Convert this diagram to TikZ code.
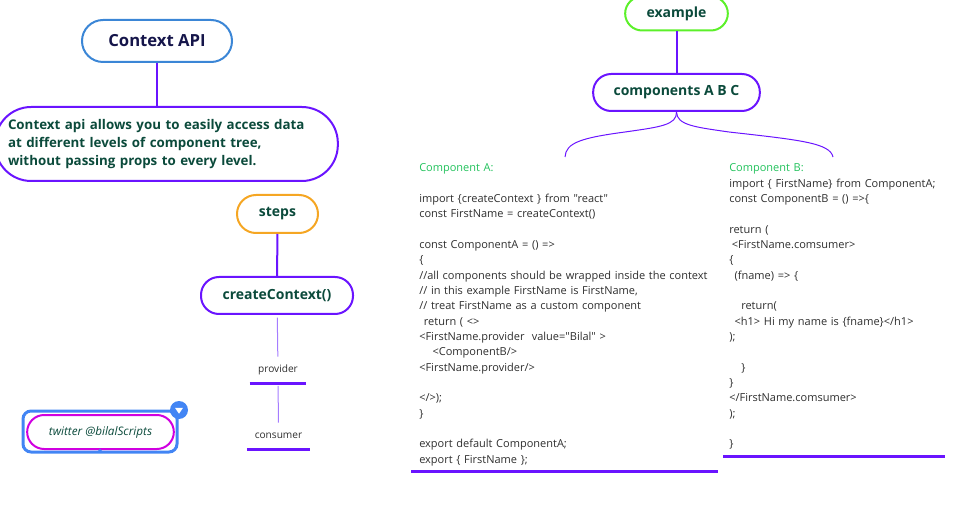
\documentclass[tikz,border=0pt]{standalone}
\usepackage{fontspec}
\setmainfont{Open Sans}
\newfontfamily\codefont{Open Sans}
\usetikzlibrary{positioning}
\definecolor{ctxblue}{HTML}{3B86D6}
\definecolor{vio}{HTML}{6A14FF}
\definecolor{lightvio}{HTML}{A57CFF}
\definecolor{stepsorange}{HTML}{F5A623}
\definecolor{lime}{HTML}{5CF02A}
\definecolor{magent}{HTML}{D000E0}
\definecolor{selblue}{HTML}{4285F4}
\definecolor{compgreen}{HTML}{22C25C}
\definecolor{dkgreen}{HTML}{0B4A3B}
\definecolor{navy}{HTML}{15154A}
\definecolor{codegrey}{HTML}{2E2E2E}
\tikzset{
  topic/.style={rectangle,draw=vio,line width=1.5pt,rounded corners=13.5pt,minimum height=27.75pt,
    text=dkgreen,font=\bfseries\fontsize{10.5}{12}\selectfont},
  link/.style={vio,line width=1.5pt},
  thinlink/.style={lightvio,line width=0.75pt},
  ul/.style={vio,line width=2.25pt},
  codeblock/.style={anchor=north west,align=left,inner xsep=6pt,inner ysep=0pt,text=codegrey,
    font=\codefont\fontsize{8.25}{11.5}\selectfont},
  steplabel/.style={inner sep=0pt,minimum height=19.5pt,text=codegrey,font=\fontsize{7.6}{9}\selectfont}
}
\begin{document}
\begin{tikzpicture}[x=0.75pt,y=-0.75pt]
    \useasboundingbox (0,0) rectangle (978,527);
    % left branch
    \node[topic,draw=ctxblue,minimum width=112.5pt,minimum height=31.5pt,rounded corners=15.75pt,
      text=navy,font=\bfseries\fontsize{12.5}{14}\selectfont] (ctx) at (157,41) {Context API};
    \node[topic,minimum width=257pt,minimum height=55.5pt,rounded corners=27pt,inner xsep=0pt,
      text width=237.75pt,align=left,font=\bfseries\fontsize{10}{13.5}\selectfont] (desc) at (166.5,144)
      {Context api allows you to easily access data\\at different levels of component tree,\\without passing props to every level.};
    \draw[link] (ctx) -- (ctx |- desc.north);
    \node[topic,draw=stepsorange,minimum width=60.75pt,minimum height=28.5pt,rounded corners=14.25pt] (steps) at (277.5,214) {steps};
    \node[topic,minimum width=114pt] (cc) at (277,295.5) {createContext()};
    \node[steplabel,minimum width=42pt] (prov) at (278,370) {provider};
    \node[steplabel,minimum width=47pt] (cons) at (278.5,436) {consumer};
    \draw[link] (steps) -- (cc);
    \draw[thinlink,shorten <=2pt] (cc) -- (prov);
    \draw[thinlink,shorten <=2pt] (prov) -- (cons);
    \draw[ul] (prov.south west) -- (prov.south east);
    \draw[ul] (cons.south west) -- (cons.south east);
    % selected twitter node
    \node[rectangle,draw=selblue,line width=2.25pt,rounded corners=6pt,minimum width=115.5pt,minimum height=30.75pt] (sel) at (100,431.5) {};
    \node[rectangle,draw=magent,line width=1.5pt,rounded corners=12.75pt,minimum width=110pt,minimum height=25.5pt,
      text=dkgreen,font=\itshape\fontsize{8.8}{10}\selectfont] (tw) at (100.5,432) {twitter @bilalScripts};
    \node[circle,fill=selblue,minimum size=13.5pt,inner sep=0pt] (btn) at (179,410) {};
    \fill[white] ([shift={(-3pt,1.6pt)}]btn.center) -- ++(6pt,0) -- ++(-3pt,-4.4pt) -- cycle;
    \fill[selblue] ([shift={(-3pt,0.5pt)}]sel.south) -- ++(6pt,0) -- ++(-3pt,3pt) -- cycle;
    % right branch
    \node[topic,draw=lime,minimum width=77pt,minimum height=25.5pt,rounded corners=12.75pt] (ex) at (676.5,13.5) {example};
    \node[topic,minimum width=125pt] (comp) at (676.5,92.5) {components A B C};
    \draw[link] (ex) -- (comp);
    \coordinate (braceL) at (565,157);
    \coordinate (braceR) at (833,157);
    \draw[thinlink,vio] (comp.south) .. controls (677,125) and (660,127) .. (625,132)
      .. controls (580,138) and (566,143) .. (braceL);
    \draw[thinlink,vio] (comp.south) .. controls (677,125) and (694,127) .. (729,132)
      .. controls (800,140) and (830,143) .. (braceR);
    \node[codeblock,text width=217.5pt] (codeA) at (411,163.5) {{\color{compgreen}Component A:}\\
      ~\\
      import \{createContext \} from "react"\\
      const FirstName = createContext()\\
      ~\\
      const ComponentA = () =>\\
      \{\\
      //all components should be wrapped inside the context\\
      // in this example FirstName is FirstName,\\
      // treat FirstName as a custom component\\
      \hspace*{3.5pt}return ( <>\\
      <FirstName.provider~ value="Bilal" >\\
      \hspace*{10pt}<ComponentB/>\\
      <FirstName.provider/>\\
      ~\\
      </>);\\
      \}\\
      ~\\
      export default ComponentA;\\
      export \{ FirstName \};};
    \draw[ul] ([yshift=-4.5pt]codeA.south west) -- ([yshift=-4.5pt]codeA.south east);
    \node[codeblock,inner xsep=4.5pt,text width=156.75pt] (codeB) at (723,163.5) {{\color{compgreen}Component B:}\\
      import \{ FirstName\} from ComponentA;\\
      const ComponentB = () =>\{\\
      ~\\
      return (\\
      \hspace*{2pt}<FirstName.comsumer>\\
      \{\\
      \hspace*{4pt}(fname) => \{\\
      ~\\
      \hspace*{9pt}return(\\
      \hspace*{4pt}<h1> Hi my name is \{fname\}</h1>\\
      );\\
      ~\\
      \hspace*{9pt}\}\\
      \}\\
      </FirstName.comsumer>\\
      );\\
      ~\\
      \}};
    \draw[ul] ([yshift=-5pt]codeB.south west) -- ([yshift=-5pt]codeB.south east);
\end{tikzpicture}
\end{document}
